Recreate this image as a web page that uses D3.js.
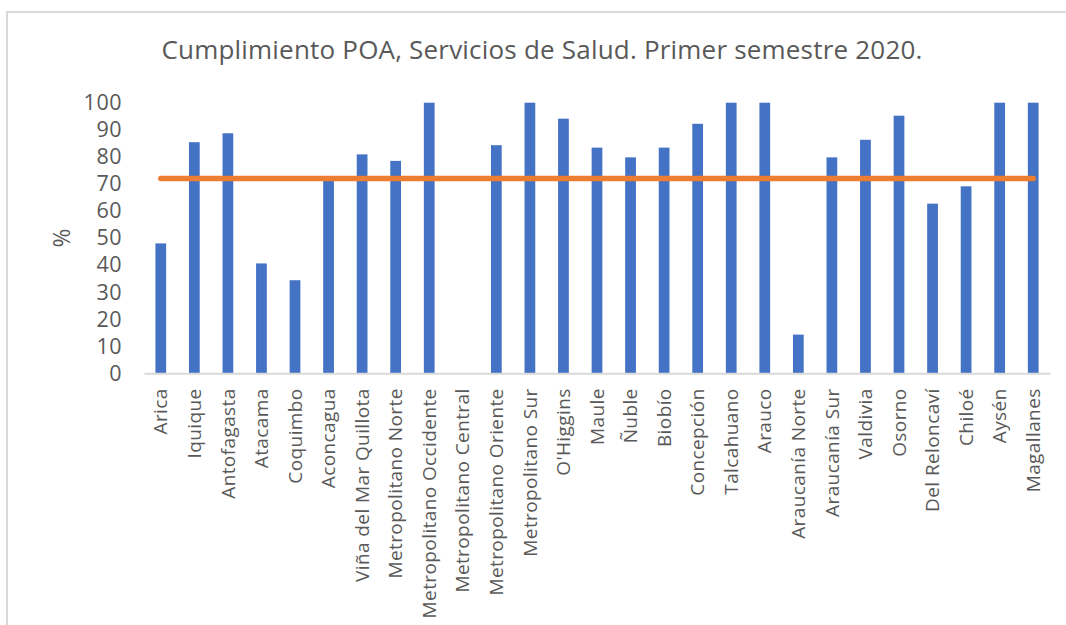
<!DOCTYPE html>
<html lang="es">
<head>
  <meta charset="UTF-8">
  <title>Cumplimiento POA, Servicios de Salud</title>
  <script src="https://d3js.org/d3.v7.min.js"></script>
  <style>
    html, body { margin: 0; padding: 0; background: #fff; }
    svg { display: block; font-family: "Open Sans", "Noto Sans", sans-serif; }
  </style>
</head>
<body>
  <div id="chart"></div>
  <script>
    // Servicios de Salud (eje X)
    const servicios = [
      "Arica", "Iquique", "Antofagasta", "Atacama", "Coquimbo", "Aconcagua",
      "Viña del Mar Quillota", "Metropolitano Norte", "Metropolitano Occidente",
      "Metropolitano Central", "Metropolitano Oriente", "Metropolitano Sur",
      "O'Higgins", "Maule", "Ñuble", "Biobío", "Concepción", "Talcahuano",
      "Arauco", "Araucanía Norte", "Araucanía Sur", "Valdivia", "Osorno",
      "Del Reloncaví", "Chiloé", "Aysén", "Magallanes"
    ];

    // % de cumplimiento (barras)
    const cumplimiento = [
      48, 85.4, 88.7, 40.6, 34.4, 71.5,
      80.9, 78.5, 100,
      0, 84.3, 100,
      94.1, 83.4, 79.8, 83.4, 92.2, 100,
      100, 14.3, 79.8, 86.3, 95.2,
      62.7, 69.1, 100, 100
    ];

    // promedio nacional (línea)
    const promedio = [
      72, 72, 72, 72, 72, 72, 72, 72, 72, 72, 72, 72, 72, 72,
      72, 72, 72, 72, 72, 72, 72, 72, 72, 72, 72, 72, 72
    ];

    const yTicks = [0, 10, 20, 30, 40, 50, 60, 70, 80, 90, 100];

    const width = 1066, height = 625;
    const margin = { top: 102.7, right: 16, bottom: 251.7, left: 144 };

    const svg = d3.select("#chart").append("svg")
      .attr("width", width).attr("height", height);

    // marco del gráfico
    svg.append("rect")
      .attr("x", 7).attr("y", 12)
      .attr("width", width + 20).attr("height", height + 20)
      .attr("fill", "none").attr("stroke", "#d9d9d9").attr("stroke-width", 2);

    svg.append("text")
      .attr("x", 542).attr("y", 59)
      .attr("text-anchor", "middle")
      .attr("fill", "#595959")
      .style("font-size", "26px")
      .style("letter-spacing", "0.2px")
      .text("Cumplimiento POA, Servicios de Salud. Primer semestre 2020.");

    const x = d3.scaleBand()
      .domain(servicios)
      .range([margin.left, 1050])
      .paddingInner(0.68)
      .paddingOuter(0.34);

    const y = d3.scaleLinear()
      .domain([0, 100])
      .range([height - margin.bottom, margin.top]);

    // eje Y (solo etiquetas)
    const yAxis = svg.append("g")
      .attr("transform", `translate(${margin.left - 22},0)`)
      .call(d3.axisLeft(y).tickValues(yTicks).tickSize(0).tickPadding(0));
    yAxis.select(".domain").remove();
    yAxis.selectAll("text")
      .attr("fill", "#595959")
      .style("font-size", "21.5px")
      .style("letter-spacing", "0.5px")
      .style("font-family", "'Open Sans', sans-serif");

    svg.append("text")
      .attr("transform", `translate(70,${y(50)}) rotate(-90)`)
      .attr("text-anchor", "middle")
      .attr("fill", "#595959")
      .style("font-size", "23px")
      .text("%");

    // barras
    svg.append("g").selectAll("rect")
      .data(servicios)
      .join("rect")
      .attr("x", (d) => x(d))
      .attr("width", x.bandwidth())
      .attr("y", (d, i) => y(cumplimiento[i]))
      .attr("height", (d, i) => y(0) - y(cumplimiento[i]))
      .attr("fill", "#4472c4");

    // eje X
    const xAxis = svg.append("g")
      .attr("transform", `translate(0,${y(0)})`)
      .call(d3.axisBottom(x).tickSize(0).tickPadding(0));
    xAxis.select(".domain")
      .attr("stroke", "#d9d9d9").attr("stroke-width", 2);
    xAxis.selectAll("text")
      .attr("fill", "#595959")
      .attr("text-anchor", "end")
      .attr("dy", "0.35em")
      .attr("transform", "translate(0,15) rotate(-90)")
      .style("font-size", "19px")
      .style("letter-spacing", "0.4px")
      .style("font-family", "'Open Sans', sans-serif");

    // línea de promedio
    const line = d3.line()
      .x((d, i) => x(servicios[i]) + x.bandwidth() / 2)
      .y((d) => y(d));

    svg.append("path")
      .datum(promedio)
      .attr("d", line)
      .attr("fill", "none")
      .attr("stroke", "#ed7d31")
      .attr("stroke-width", 5.5)
      .attr("stroke-linecap", "round");
  </script>
</body>
</html>
